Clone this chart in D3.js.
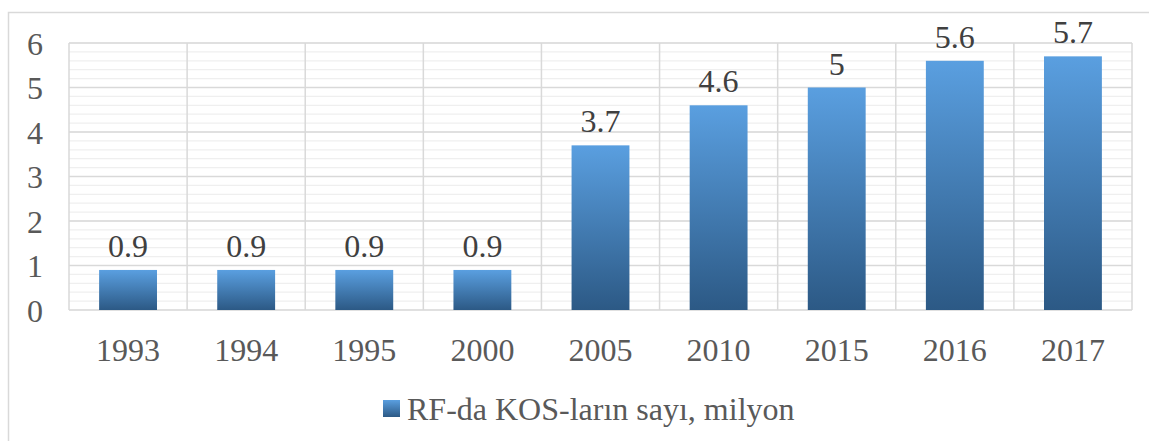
<!DOCTYPE html>
<html><head><meta charset="utf-8">
<script src="https://cdn.jsdelivr.net/npm/d3@7"></script>
<style>body{margin:0;background:#fff}svg{display:block}</style>
</head><body><svg id="c" width="1149" height="441" font-family="Liberation Serif, Tinos, DejaVu Serif, serif"></svg>
<script>
const categories = ["1993","1994","1995","2000","2005","2010","2015","2016","2017"];
const values = [0.9,0.9,0.9,0.9,3.7,4.6,5,5.6,5.7];
const valueLabels = ["0.9","0.9","0.9","0.9","3.7","4.6","5","5.6","5.7"];
const yTicks = [0,1,2,3,4,5,6];
const minorTicks = d3.range(0, 6.001, 0.2);
const seriesName = "RF-da KOS-ların sayı, milyon";

const svg = d3.select("#c");
const m = {l:69, r:1149-1132, t:43, b:441-310};
const W = 1149, H = 441;

const probe = svg.append("text").attr("font-size",29).text(seriesName);
const pw = probe.node().getComputedTextLength();
probe.remove();
const FS = Math.min(32, 29*388/pw);

svg.append("rect").attr("x",8.5).attr("y",12.5).attr("width",1160).attr("height",440)
  .attr("fill","none").attr("stroke","#d9d9d9").attr("stroke-width",1.5);

const defs = svg.append("defs");
const g1 = defs.append("linearGradient").attr("id","bg").attr("x1",0).attr("y1",0).attr("x2",0).attr("y2",1);
g1.append("stop").attr("offset","0%").attr("stop-color","#5a9fe0");
g1.append("stop").attr("offset","100%").attr("stop-color","#2c5985");

const x = d3.scaleBand().domain(categories).range([m.l, W-m.r]).paddingInner(0.51).paddingOuter(0.255);
const y = d3.scaleLinear().domain([0,6]).range([H-m.b, m.t]);

svg.append("g").selectAll("line").data(minorTicks).join("line")
  .attr("x1",m.l).attr("x2",W-m.r).attr("y1",d=>y(d)).attr("y2",d=>y(d))
  .attr("stroke","#efefef").attr("stroke-width",1.2);
svg.append("g").selectAll("line").data(yTicks).join("line")
  .attr("x1",m.l).attr("x2",W-m.r).attr("y1",d=>y(d)).attr("y2",d=>y(d))
  .attr("stroke","#d9d9d9").attr("stroke-width",1.5);
const bounds = d3.range(categories.length+1).map(i => m.l + i*(W-m.r-m.l)/categories.length);
svg.append("g").selectAll("line").data(bounds).join("line")
  .attr("x1",d=>d).attr("x2",d=>d).attr("y1",m.t).attr("y2",H-m.b)
  .attr("stroke","#d9d9d9").attr("stroke-width",1.5);

svg.append("g").selectAll("rect").data(values).join("rect")
  .attr("x",(d,i)=>x(categories[i])).attr("width",x.bandwidth())
  .attr("y",d=>y(d)).attr("height",d=>y(0)-y(d))
  .attr("fill","url(#bg)");

svg.append("g").selectAll("text").data(values).join("text")
  .attr("x",(d,i)=>x(categories[i])+x.bandwidth()/2).attr("y",d=>y(d)-13)
  .attr("text-anchor","middle").attr("font-size",FS)
  .attr("fill","#404040").text((d,i)=>valueLabels[i]);

const ya = svg.append("g").attr("transform",`translate(${m.l},0)`)
  .call(d3.axisLeft(y).tickValues(yTicks).tickSize(0).tickPadding(26).tickFormat(d3.format("d")));
ya.attr("font-family",null).attr("font-size",null);
ya.select(".domain").remove();
ya.selectAll("text").attr("font-size",FS).attr("fill","#595959").attr("dy","0.35em");

const xa = svg.append("g").attr("transform",`translate(0,${H-m.b})`)
  .call(d3.axisBottom(x).tickSize(0).tickPadding(28));
xa.attr("font-family",null).attr("font-size",null);
xa.select(".domain").remove();
xa.selectAll("text").attr("font-size",FS).attr("fill","#595959");

const lg = svg.append("g");
lg.append("rect").attr("x",383).attr("y",400).attr("width",17).attr("height",17).attr("fill","url(#bg)");
lg.append("text").attr("x",407).attr("y",408.5).attr("dy","0.35em")
  .attr("font-size",FS).attr("fill","#595959").text(seriesName);
</script></body></html>
